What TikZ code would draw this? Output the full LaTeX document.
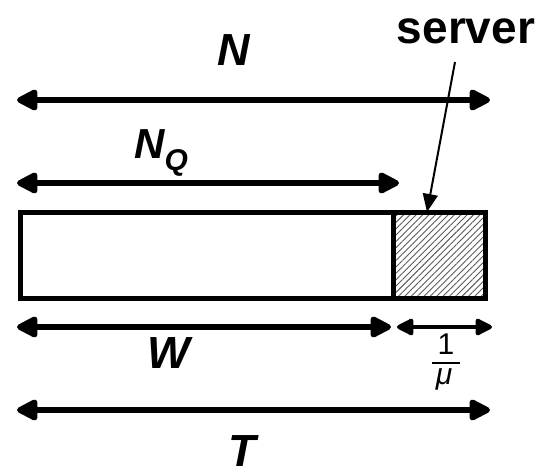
\documentclass[tikz,border=0pt]{standalone}
\usepackage{fontspec}
\setmainfont{Liberation Sans}
\usetikzlibrary{arrows.meta,patterns.meta}
\begin{document}
\begin{tikzpicture}[x=1pt,y=-1pt,
  dim/.style={line width=5.5pt,{Triangle[length=24pt,width=23pt,round]}-{Triangle[length=24pt,width=23pt,round]}},
  dimsmall/.style={line width=4pt,{Triangle[length=19pt,width=18pt,round]}-{Triangle[length=19pt,width=18pt,round]}},
  lbl/.style={font=\fontsize{45}{48}\selectfont\bfseries\itshape,inner sep=0pt,anchor=base},
  boxst/.style={draw,line width=5pt,minimum height=86pt,inner sep=0pt,outer sep=0pt}
]
\useasboundingbox (0,0) rectangle (555,472);
% boxes
\node[boxst,minimum width=373pt,anchor=north west] (queue) at (20,212) {};
\node[boxst,minimum width=92pt,anchor=north west,pattern={Lines[angle=45,distance=4.5pt,line width=0.9pt]},pattern color=black!65] (srv) at (393,212) {};
% coordinates
\coordinate (Na) at (17,100); \coordinate (Nb) at (490,100);
\coordinate (Qa) at (17,183); \coordinate (Qb) at (399,183);
\coordinate (Wa) at (17,327); \coordinate (Wb) at (391,327);
\coordinate (Ma) at (397,327); \coordinate (Mb) at (492,327);
\coordinate (Ta) at (17,410); \coordinate (Tb) at (490,410);
% dimension arrows
\draw[dim] (Na) -- (Nb);
\draw[dim] (Qa) -- (Qb);
\draw[dim] (Wa) -- (Wb);
\draw[dimsmall] (Ma) -- (Mb);
\draw[dim] (Ta) -- (Tb);
% labels
\node[lbl] (lN) at (234,65) {N};
\node[lbl,font=\fontsize{42}{44}\selectfont\bfseries\itshape,anchor=base west] (lQ) at (134,158) {N\raisebox{-0.3em}{\fontsize{30}{32}\selectfont\bfseries\itshape Q}};
\node[lbl] (lW) at (169,368) {W};
\node[lbl,text depth=0pt] (lT) at (242,466) {T};
% fraction 1/mu
\node[inner sep=0pt,font=\fontsize{30}{32}\selectfont] (one) at (446,344) {1};
\coordinate (fa) at (432,363); \coordinate (fb) at (460,363);
\draw[line width=1.8pt] (fa) -- (fb);
\node[inner sep=0pt,font=\fontsize{30}{32}\selectfont\itshape] (mu) at (444,379) {μ};
% server
\node[inner sep=0pt,font=\fontsize{46}{50}\selectfont\bfseries] (lsrv) at (466,31) {server};
\coordinate (sa) at (455,62);
\draw[line width=2pt,-{Triangle[length=18pt,width=15pt]}] (sa) -- ([xshift=34pt]srv.north west);
\end{tikzpicture}
\end{document}
